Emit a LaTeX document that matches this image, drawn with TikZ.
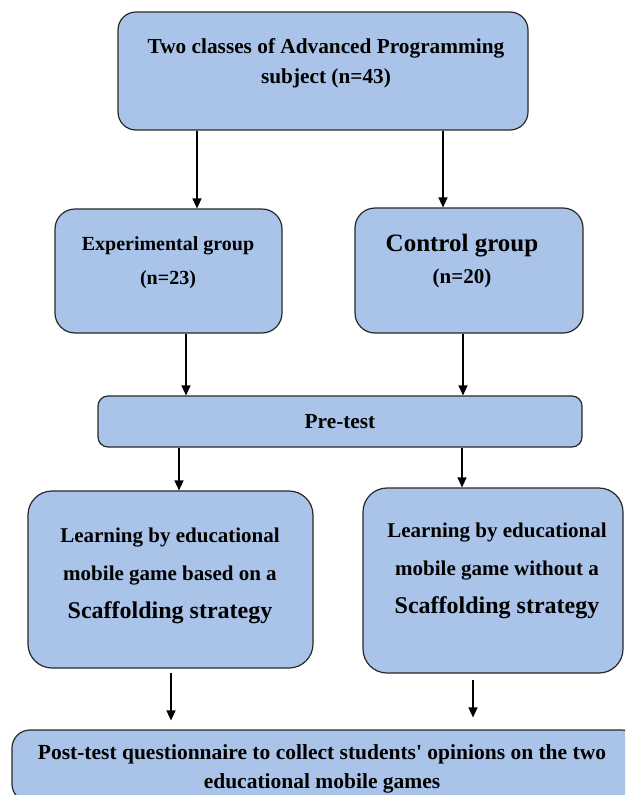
\documentclass[tikz,border=0pt]{standalone}
\usepackage{fontspec}
\setmainfont{Liberation Serif}
\usetikzlibrary{arrows.meta}
\definecolor{boxblue}{RGB}{169,196,232}
\definecolor{edgegray}{RGB}{40,40,40}
\begin{document}
\begin{tikzpicture}[x=1pt,y=-1pt,
  box/.style={draw=edgegray, line width=1.2pt, fill=boxblue, rounded corners=#1, inner sep=0pt},
  box/.default=18pt,
  txt/.style={font=\bfseries\fontsize{21.3}{30}\selectfont, align=center, inner sep=0pt},
  arr/.style={-{Triangle[length=10pt,width=9pt]}, line width=1.3pt, draw=black}]
\useasboundingbox (0,0) rectangle (625,795);
\clip (0,0) rectangle (625,795);
% boxes
\node[box=18pt, minimum width=410pt, minimum height=118pt] (top) at (323,71) {};
\node[box=20pt, minimum width=227pt, minimum height=124pt] (exp) at (168.5,271) {};
\node[box=20pt, minimum width=228pt, minimum height=125pt] (ctrl) at (469,270.5) {};
\node[box=10pt, minimum width=484pt, minimum height=51pt] (pre) at (340,421.5) {};
\node[box=24pt, minimum width=285pt, minimum height=177pt] (lL) at (170.5,579.5) {};
\node[box=24pt, minimum width=260pt, minimum height=185pt] (lR) at (493,580.5) {};
\node[box=18pt, minimum width=628pt, minimum height=72pt] (bot) at (326,766) {};
% texts
\node[txt] (top-t) at (326,63) {Two classes of Advanced Programming\\subject (n=43)};
\node[txt, font=\bfseries\fontsize{20}{34}\selectfont] (exp-t) at (168,263) {Experimental group\\(n=23)};
\node[txt, font=\bfseries\fontsize{21}{32}\selectfont] (ctrl-t) at (462,261) {{\fontsize{25}{32}\selectfont Control group}\\(n=20)};
\node[txt] (pre-t) at (340,421.5) {Pre-test};
\node[txt, font=\bfseries\fontsize{21}{38}\selectfont] (lL-t) at (170,576) {Learning by educational\\mobile game based on a\\{\fontsize{24}{38}\selectfont Scaffolding strategy}};
\node[txt, font=\bfseries\fontsize{21}{38}\selectfont] (lR-t) at (497,571) {Learning by educational\\mobile game without a\\{\fontsize{24}{38}\selectfont Scaffolding strategy}};
\node[txt, font=\bfseries\fontsize{21.5}{29}\selectfont] (bot-t) at (322,769) {Post-test questionnaire to collect students\textquotesingle{} opinions on the two\\educational mobile games};
% arrows
\draw[arr] (197,0 |- top.south) -- (197,0 |- exp.north);
\draw[arr] (443,0 |- top.south) -- (443,0 |- ctrl.north);
\draw[arr] (186,0 |- exp.south) -- (186,0 |- pre.north);
\draw[arr] (463,0 |- ctrl.south) -- (463,0 |- pre.north);
\draw[arr] (179,0 |- pre.south) -- (179,0 |- lL.north);
\draw[arr] (462,0 |- pre.south) -- (462,0 |- lR.north);
\draw[arr, shorten <=4pt, shorten >=9pt] (171,0 |- lL.south) -- (171,0 |- bot.north);
\draw[arr, shorten <=6pt, shorten >=12pt] (473,0 |- lR.south) -- (473,0 |- bot.north);
\end{tikzpicture}
\end{document}
